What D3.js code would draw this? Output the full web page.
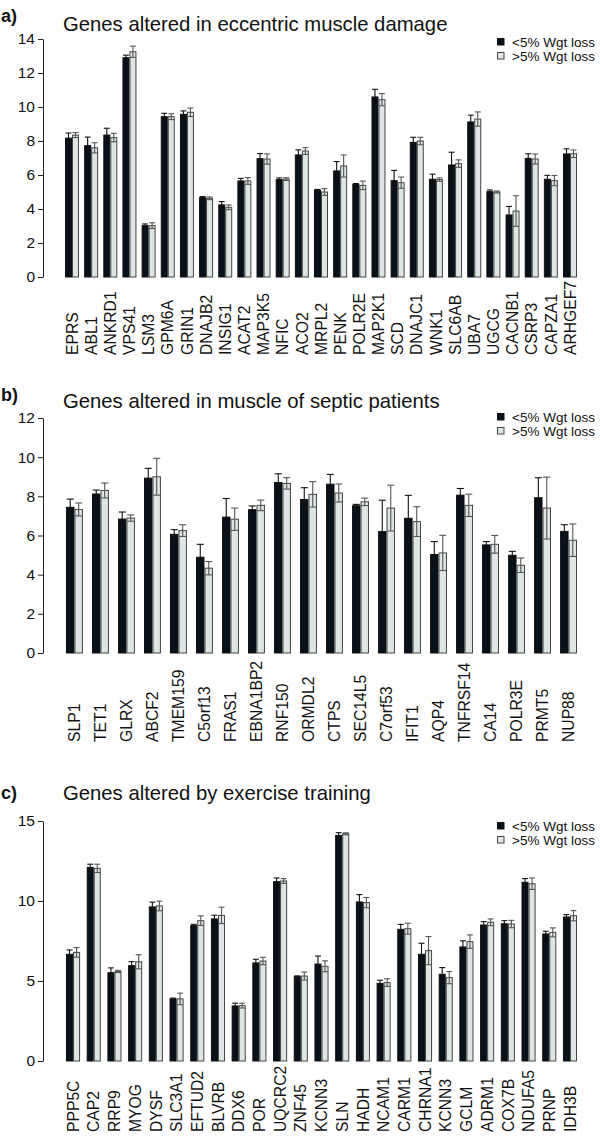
<!DOCTYPE html>
<html><head><meta charset="utf-8">
<script src="https://cdn.jsdelivr.net/npm/d3@7"></script>
<style>
body{margin:0;background:#fff;}
svg{display:block;font-family:"Liberation Sans",Arial,Helvetica,sans-serif;}
</style></head>
<body>
<svg id="chart" width="600" height="1142"></svg>
<script>
// ---- Panel a: eccentric muscle damage ----
const catsA = ["EPRS","ABL1","ANKRD1","VPS41","LSM3","GPM6A","GRIN1","DNAJB2","INSIG1","ACAT2","MAP3K5","NFIC","ACO2","MRPL2","PENK","POLR2E","MAP2K1","SCD","DNAJC1","WNK1","SLC6AB","UBA7","UGCG","CACNB1","CSRP3","CAPZA1","ARHGEF7"];
const lowA    = [8.17,7.73,8.35,12.9,3.02,9.43,9.57,4.67,4.24,5.65,6.96,5.73,7.18,5.10,6.24,5.45,10.59,5.67,7.92,5.75,6.59,9.12,5.02,3.65,6.98,5.75,7.24];
const lowErrA = [0.30,0.50,0.40,0.15,0.10,0.20,0.20,0.06,0.20,0.15,0.30,0.10,0.30,0.05,0.55,0.05,0.45,0.60,0.30,0.30,0.75,0.40,0.10,0.50,0.27,0.23,0.30];
const highA   = [8.35,7.60,8.20,13.25,3.02,9.43,9.69,4.63,4.10,5.65,6.94,5.76,7.41,5.00,6.53,5.39,10.43,5.55,8.00,5.73,6.67,9.29,5.00,3.88,6.94,5.67,7.25];
const highErrA= [0.15,0.30,0.25,0.33,0.17,0.17,0.25,0.08,0.14,0.20,0.30,0.08,0.20,0.20,0.65,0.25,0.36,0.33,0.22,0.10,0.22,0.42,0.06,0.90,0.30,0.30,0.22];
const ticksA = [0,2,4,6,8,10,12,14];

// ---- Panel b: septic patients ----
const catsB = ["SLP1","TET1","GLRX","ABCF2","TMEM159","C5orf13","FRAS1","EBNA1BP2","RNF150","ORMDL2","CTPS","SEC14L5","C7orf53","IFIT1","AQP4","TNFRSF14","CA14","POLR3E","PRMT5","NUP88"];
const lowB    = [7.44,8.12,6.84,8.93,6.06,4.89,6.94,7.32,8.71,7.84,8.62,7.52,6.20,6.88,5.03,8.06,5.52,4.99,7.93,6.21];
const lowErrB = [0.42,0.20,0.36,0.50,0.24,0.66,0.95,0.19,0.44,0.60,0.50,0.07,1.60,1.17,0.66,0.34,0.17,0.20,1.02,0.34];
const highB   = [7.33,8.30,6.89,9.00,6.25,4.33,6.83,7.54,8.66,8.10,8.17,7.72,7.40,6.71,5.11,7.54,5.55,4.48,7.40,5.76];
const highErrB= [0.33,0.38,0.16,0.94,0.30,0.34,0.57,0.27,0.29,0.65,0.46,0.19,1.17,0.76,0.90,0.57,0.45,0.37,1.58,0.83];
const ticksB = [0,2,4,6,8,10,12];

// ---- Panel c: exercise training ----
const catsC = ["PPP5C","CAP2","RRP9","MYOG","DYSF","SLC3A1","EFTUD2","BLVRB","DDX6","POR","UQCRC2","ZNF45","KCNN3","SLN","HADH","NCAM1","CARM1","CHRNA1","KCNN3","GCLM","ADRM1","COX7B","NDUFA5","PRNP","IDH3B"];
const lowC    = [6.67,12.10,5.52,5.96,9.63,3.88,8.46,8.88,3.44,6.13,11.21,5.27,6.06,14.10,9.94,4.85,8.23,6.67,5.42,7.13,8.50,8.58,11.17,7.94,9.00];
const lowErrC = [0.27,0.20,0.30,0.25,0.30,0.05,0.08,0.23,0.17,0.23,0.23,0.05,0.50,0.17,0.46,0.20,0.31,0.69,0.42,0.38,0.21,0.19,0.23,0.17,0.15];
const highC   = [6.79,12.04,5.60,6.20,9.69,3.88,8.77,9.10,3.46,6.25,11.25,5.31,5.92,14.20,9.90,4.90,8.27,6.90,5.21,7.46,8.67,8.56,11.08,8.04,9.08];
const highErrC= [0.30,0.26,0.07,0.44,0.30,0.36,0.30,0.51,0.15,0.23,0.15,0.25,0.34,0.06,0.32,0.24,0.34,0.88,0.38,0.42,0.21,0.23,0.36,0.28,0.32];
const ticksC = [0,5,10,15];

const seriesNames = ["<5% Wgt loss", ">5% Wgt loss"];
const panelTitles = ["Genes altered in eccentric muscle damage","Genes altered in muscle of septic patients","Genes altered by exercise training"];
const panelLetters = ["a)","b)","c)"];

const svg = d3.select("#chart");
const darkFill = "#08101a", lightFill = "#dde5e5";

const panels = [
  {cats:catsA, low:lowA, lowErr:lowErrA, high:highA, highErr:highErrA, ticks:ticksA,
   y0:277, y1:39, x0:65, x1:577, pad:0.27, labelY:355, titleY:31, letterY:22, legY:38},
  {cats:catsB, low:lowB, lowErr:lowErrB, high:highB, highErr:highErrB, ticks:ticksB,
   y0:653, y1:418, x0:66, x1:577, pad:0.35, labelY:742, titleY:408, letterY:401, legY:413},
  {cats:catsC, low:lowC, lowErr:lowErrC, high:highC, highErr:highErrC, ticks:ticksC,
   y0:1061, y1:821, x0:66, x1:577, pad:0.32, labelY:1132, titleY:800, letterY:799, legY:822}
];

panels.forEach((p, pi) => {
  const g = svg.append("g");
  const idx = d3.range(p.cats.length);
  const x = d3.scaleBand().domain(idx).range([p.x0, p.x1]).paddingInner(p.pad).paddingOuter(0);
  const xs = d3.scaleBand().domain([0,1]).range([0, x.bandwidth()]);
  const y = d3.scaleLinear().domain([0, d3.max(p.ticks)]).range([p.y0, p.y1]);

  // axis
  const ax = g.append("g").attr("transform", "translate(43,0)")
    .call(d3.axisLeft(y).tickValues(p.ticks).tickSize(5).tickSizeOuter(0).tickPadding(3));
  ax.select(".domain").attr("stroke", "#222");
  ax.selectAll(".tick line").attr("stroke", "#222");
  ax.selectAll("text").attr("font-size", 15.5).attr("fill", "#111").attr("font-family","Liberation Sans, Arial, sans-serif");

  const data = [];
  idx.forEach(i => {
    data.push({i, s:0, v:p.low[i], e:p.lowErr[i]});
    data.push({i, s:1, v:p.high[i], e:p.highErr[i]});
  });

  g.selectAll("rect.bar").data(data).join("rect")
    .attr("class","bar")
    .attr("x", d => x(d.i) + xs(d.s) + 0.5)
    .attr("width", xs.bandwidth() - 1)
    .attr("y", d => y(d.v))
    .attr("height", d => y(0) - y(d.v))
    .attr("fill", d => d.s === 0 ? darkFill : lightFill)
    .attr("stroke", d => d.s === 0 ? "#111" : "#444")
    .attr("stroke-width", 1);

  // error bars
  const cap = Math.min(4, xs.bandwidth() * 0.42);
  const eg = g.selectAll("g.err").data(data).join("g").attr("class","err")
    .attr("stroke", d => d.s === 0 ? "#111" : "#555").attr("stroke-width", 1.1);
  eg.append("line")
    .attr("x1", d => x(d.i) + xs(d.s) + xs.bandwidth()/2)
    .attr("x2", d => x(d.i) + xs(d.s) + xs.bandwidth()/2)
    .attr("y1", d => y(d.v - d.e)).attr("y2", d => y(d.v + d.e));
  eg.append("line")
    .attr("x1", d => x(d.i) + xs(d.s) + xs.bandwidth()/2 - cap)
    .attr("x2", d => x(d.i) + xs(d.s) + xs.bandwidth()/2 + cap)
    .attr("y1", d => y(d.v + d.e)).attr("y2", d => y(d.v + d.e));
  eg.append("line")
    .attr("x1", d => x(d.i) + xs(d.s) + xs.bandwidth()/2 - cap)
    .attr("x2", d => x(d.i) + xs(d.s) + xs.bandwidth()/2 + cap)
    .attr("y1", d => y(d.v - d.e)).attr("y2", d => y(d.v - d.e));

  // category labels
  g.selectAll("text.cat").data(idx).join("text")
    .attr("class","cat")
    .attr("transform", i => `translate(${x(i) + x.bandwidth()/2},${p.labelY}) rotate(-90)`)
    .attr("dy", "0.36em")
    .attr("font-size", 15.7).attr("fill", "#111")
    .text(i => p.cats[i]);

  // title & letter
  g.append("text").attr("x", 63).attr("y", p.titleY).attr("font-size", 20.3).attr("fill","#111").text(panelTitles[pi]);
  g.append("text").attr("x", 1).attr("y", p.letterY).attr("font-size", 18).attr("font-weight","bold").attr("fill","#111").text(panelLetters[pi]);

  // legend
  seriesNames.forEach((nm, k) => {
    const ly = p.legY + k * 14;
    g.append("rect").attr("x", 497.5).attr("y", ly + 0.5).attr("width", 6.5).attr("height", 6.5)
      .attr("fill", k === 0 ? darkFill : lightFill).attr("stroke", k === 0 ? "#111" : "#444");
    g.append("text").attr("x", 512).attr("y", ly + 8.5).attr("font-size", 13.5).attr("fill","#111").text(nm);
  });
});
</script>
</body></html>
